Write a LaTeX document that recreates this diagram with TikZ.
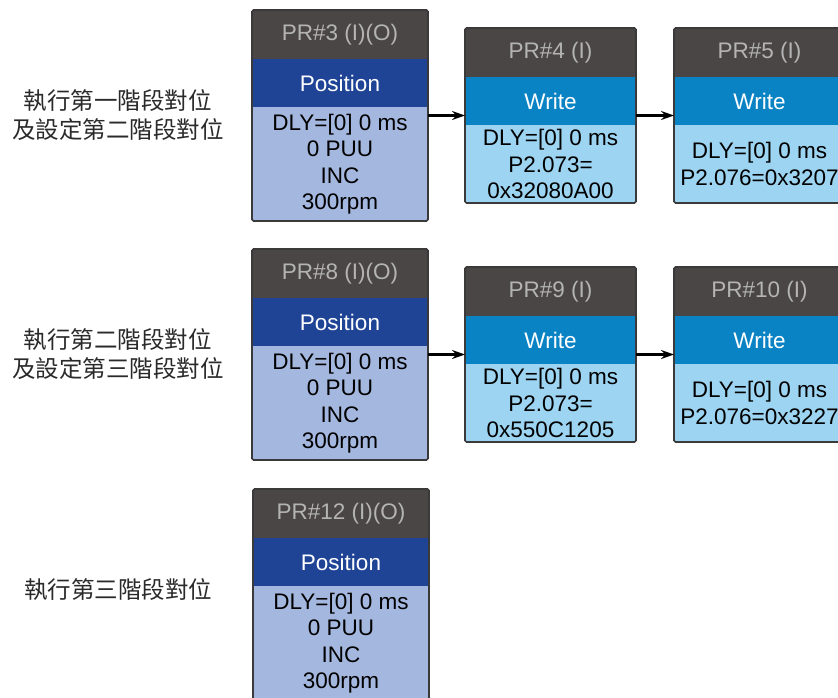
\documentclass[tikz,border=0pt]{standalone}
\usepackage{fontspec}
\setmainfont{Liberation Sans}
\newfontfamily\cjk{Noto Sans CJK TC}
\usetikzlibrary{arrows.meta}
\definecolor{hdrfill}{HTML}{4A4646}
\definecolor{hdrtext}{HTML}{B4B4B4}
\definecolor{posband}{HTML}{1F4496}
\definecolor{posbody}{HTML}{A4B7DE}
\definecolor{wrband}{HTML}{0A83C4}
\definecolor{wrbody}{HTML}{9DD4F1}
\definecolor{framec}{HTML}{3A3A3A}
\definecolor{labc}{HTML}{2A2A2A}
\tikzset{
  part/.style={rectangle, draw=none, inner sep=0pt, outer sep=0pt, align=center,
    font=\fontsize{22.5}{26.5}\selectfont},
  hdr/.style={part, fill=hdrfill, text=hdrtext},
  pband/.style={part, fill=posband, text=white},
  pbody/.style={part, fill=posbody, text=black},
  wband/.style={part, fill=wrband, text=white},
  wbody/.style={part, fill=wrbody, text=black},
  frame/.style={rectangle, draw=framec, line width=1.6pt, rounded corners=1.5pt, fill=none, inner sep=0pt, outer sep=0pt},
  arr/.style={-{Stealth[length=13pt,width=9pt]}, line width=2.4pt, black},
  lab/.style={align=center, text=labc, font=\cjk\fontsize{23.5}{29}\selectfont}
}
\begin{document}
\begin{tikzpicture}[x=1pt,y=-1pt]
\useasboundingbox (0,0) rectangle (838,697);
\clip (0,0) rectangle (838,697);

% Row 1
\node[lab] (l1) at (118,115) {執行第一階段對位\\及設定第二階段對位};
% PR#3
\node[hdr, minimum width=176, minimum height=49] (h3) at (340,35) {PR\#3 (I)(O)};
\node[pband, minimum width=176, minimum height=48] (b3) at (340,83) {Position};
\node[pbody, minimum width=176, minimum height=114] (d3) at (340,164) {DLY=[0] 0 ms\\0 PUU\\INC\\300rpm};
\node[frame, minimum width=176, minimum height=211] (f3) at (340,115.5) {};
% PR#4
\node[hdr, minimum width=171, minimum height=49] (h4) at (550.5,53) {PR\#4 (I)};
\node[wband, minimum width=171, minimum height=48] (b4) at (550.5,101) {Write};
\node[wbody, minimum width=171, minimum height=78] (d4) at (550.5,164) {DLY=[0] 0 ms\\P2.073=\\0x32080A00};
\node[frame, minimum width=171, minimum height=175] (f4) at (550.5,115.5) {};
% PR#5
\node[hdr, minimum width=171, minimum height=49] (h5) at (759.5,53) {PR\#5 (I)};
\node[wband, minimum width=171, minimum height=48] (b5) at (759.5,101) {Write};
\node[wbody, minimum width=171, minimum height=78] (d5) at (759.5,164) {DLY=[0] 0 ms\\P2.076=0x3207};
\node[frame, minimum width=171, minimum height=175] (f5) at (759.5,115.5) {};
\draw[arr] (f3) -- (f4);
\draw[arr] (f4) -- (f5);

% Row 2
\node[lab] (l2) at (118,354) {執行第二階段對位\\及設定第三階段對位};
% PR#8
\node[hdr, minimum width=176, minimum height=49] (h8) at (340,274) {PR\#8 (I)(O)};
\node[pband, minimum width=176, minimum height=48] (b8) at (340,322) {Position};
\node[pbody, minimum width=176, minimum height=114] (d8) at (340,403) {DLY=[0] 0 ms\\0 PUU\\INC\\300rpm};
\node[frame, minimum width=176, minimum height=211] (f8) at (340,354.5) {};
% PR#9
\node[hdr, minimum width=171, minimum height=49] (h9) at (550.5,292) {PR\#9 (I)};
\node[wband, minimum width=171, minimum height=48] (b9) at (550.5,340) {Write};
\node[wbody, minimum width=171, minimum height=78] (d9) at (550.5,403) {DLY=[0] 0 ms\\P2.073=\\0x550C1205};
\node[frame, minimum width=171, minimum height=175] (f9) at (550.5,354.5) {};
% PR#10
\node[hdr, minimum width=171, minimum height=49] (h10) at (759.5,292) {PR\#10 (I)};
\node[wband, minimum width=171, minimum height=48] (b10) at (759.5,340) {Write};
\node[wbody, minimum width=171, minimum height=78] (d10) at (759.5,403) {DLY=[0] 0 ms\\P2.076=0x3227};
\node[frame, minimum width=171, minimum height=175] (f10) at (759.5,354.5) {};
\draw[arr] (f8) -- (f9);
\draw[arr] (f9) -- (f10);

% Row 3
\node[lab] (l3) at (118,590) {執行第三階段對位};
% PR#12
\node[hdr, minimum width=176, minimum height=49] (h12) at (341,514) {PR\#12 (I)(O)};
\node[pband, minimum width=176, minimum height=48] (b12) at (341,562) {Position};
\node[pbody, minimum width=176, minimum height=114] (d12) at (341,643) {DLY=[0] 0 ms\\0 PUU\\INC\\300rpm};
\node[frame, minimum width=176, minimum height=211] (f12) at (341,594.5) {};
\end{tikzpicture}
\end{document}
